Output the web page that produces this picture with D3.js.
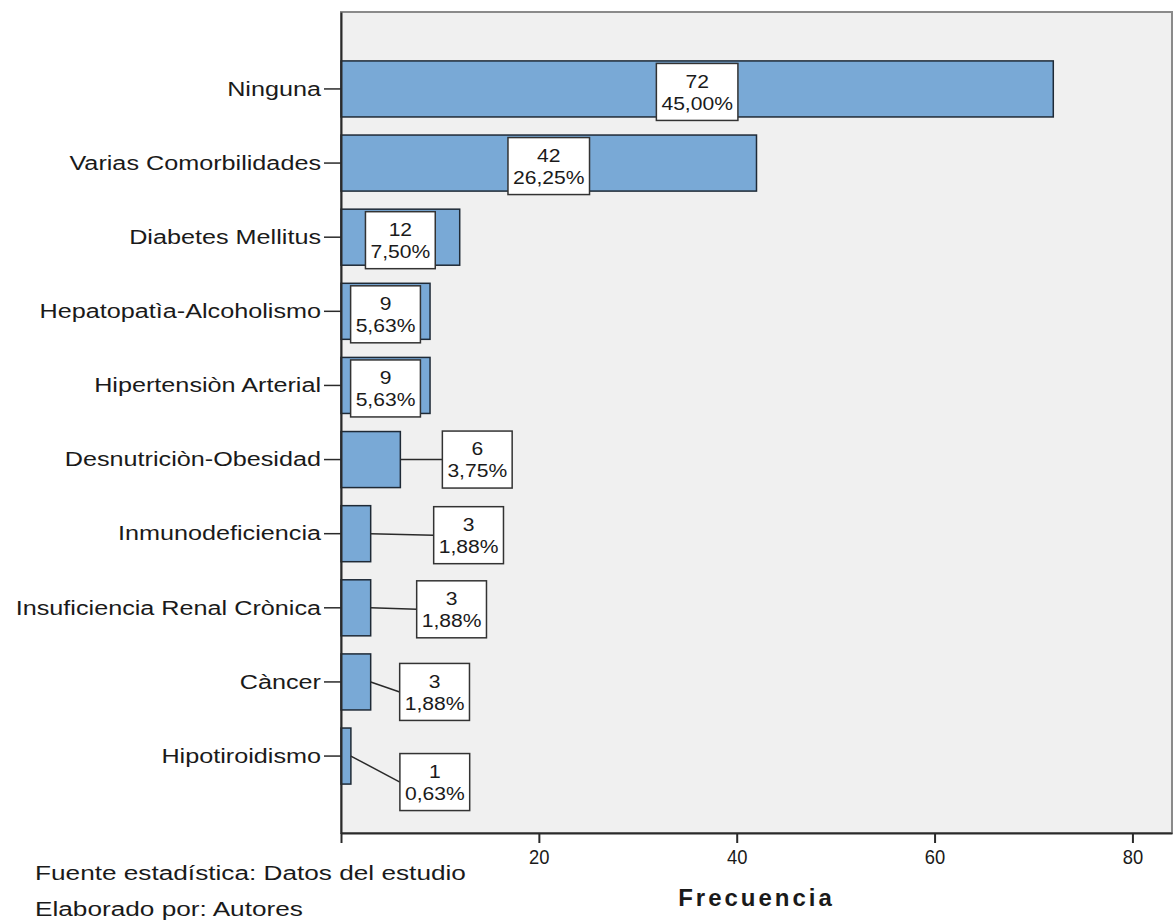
<!DOCTYPE html>
<html>
<head>
<meta charset="utf-8">
<script src="https://cdn.jsdelivr.net/npm/d3@7"></script>
<style>
  html, body { margin: 0; padding: 0; background: #ffffff; }
  svg { display: block; }
  text { font-family: "Liberation Sans", Arial, sans-serif; fill: #1a1a1a; }
</style>
</head>
<body>
<svg id="chart" width="1175" height="922"></svg>
<script>
// Comorbidities and their frequencies
const categories = [
  "Ninguna",
  "Varias Comorbilidades",
  "Diabetes Mellitus",
  "Hepatopatìa-Alcoholismo",
  "Hipertensiòn Arterial",
  "Desnutriciòn-Obesidad",
  "Inmunodeficiencia",
  "Insuficiencia Renal Crònica",
  "Càncer",
  "Hipotiroidismo"
];
const counts = [72, 42, 12, 9, 9, 6, 3, 3, 3, 1];
const percents = ["45,00%", "26,25%", "7,50%", "5,63%", "5,63%", "3,75%", "1,88%", "1,88%", "1,88%", "0,63%"];
const xTicks = [20, 40, 60, 80];

// Placement of the value boxes that sit outside short bars:
// horizontal gap after the bar end and vertical shift from the bar centre (px)
const outsideGap = [null, null, null, null, null, 42, 63, 46, 29, 49];
const outsideShift = [0, 0, 0, 0, 0, 0, 1.5, 1.5, 10, 26];

const svg = d3.select("#chart");
const plot = { left: 341, right: 1172, top: 12, bottom: 833 };

const x = d3.scaleLinear().domain([0, 84]).range([plot.left, plot.right]);
const y = d3.scaleBand().domain(categories)
  .range([plot.top, plot.bottom])
  .paddingInner(0.244)
  .paddingOuter(0.66);

// wide text: draw at x=0 and move with a transform that also stretches it
function stretch(sel, sx) {
  sel.each(function () {
    const t = d3.select(this);
    const tx = +t.attr("x") || 0;
    t.attr("x", 0).attr("transform", `translate(${tx},0) scale(${sx},1)`);
  });
}

// plot background and frame
svg.append("rect")
  .attr("x", plot.left).attr("y", plot.top)
  .attr("width", plot.right - plot.left).attr("height", plot.bottom - plot.top)
  .attr("fill", "#f0f0f0")
  .attr("stroke", "#8a8a8a").attr("stroke-width", 2);

// bars
svg.append("g").selectAll("rect")
  .data(categories)
  .join("rect")
  .attr("x", x(0))
  .attr("y", d => y(d))
  .attr("width", (d, i) => x(counts[i]) - x(0))
  .attr("height", y.bandwidth())
  .attr("fill", "#79a9d6")
  .attr("stroke", "#1f2a36")
  .attr("stroke-width", 1.5);

// y axis
const yAxis = svg.append("g")
  .attr("transform", `translate(${plot.left},0)`)
  .call(d3.axisLeft(y).tickSizeInner(17).tickSizeOuter(0).tickPadding(3));
yAxis.select(".domain").attr("stroke", "#2a2a2a").attr("stroke-width", 2);
yAxis.selectAll(".tick line").attr("stroke", "#2a2a2a").attr("stroke-width", 1.5);
yAxis.selectAll(".tick text")
  .attr("font-size", 21)
  .attr("font-family", "Liberation Sans, Arial, sans-serif")
  .attr("fill", "#1a1a1a")
  .call(stretch, 1.2);

// x axis
const xAxis = svg.append("g")
  .attr("transform", `translate(0,${plot.bottom})`)
  .call(d3.axisBottom(x).tickValues([0].concat(xTicks)).tickSizeInner(10).tickSizeOuter(0).tickPadding(7)
    .tickFormat(d => d === 0 ? "" : d));
xAxis.select(".domain").attr("stroke", "#2a2a2a").attr("stroke-width", 2);
xAxis.selectAll(".tick line").attr("stroke", "#2a2a2a").attr("stroke-width", 2);
xAxis.selectAll(".tick text")
  .attr("font-size", 20)
  .attr("font-family", "Liberation Sans, Arial, sans-serif")
  .attr("fill", "#1a1a1a")
  .call(stretch, 0.92);

// x axis title
svg.append("text")
  .attr("x", (plot.left + plot.right) / 2)
  .attr("y", 906)
  .attr("text-anchor", "middle")
  .attr("font-size", 24)
  .attr("font-weight", "bold")
  .attr("letter-spacing", 3)
  .text("Frecuencia");

// value labels
const labels = svg.append("g");
categories.forEach((c, i) => {
  const barEnd = x(counts[i]);
  const cyBar = y(c) + y.bandwidth() / 2;
  const g = labels.append("g");
  const textScale = 1.11;
  const t1 = g.append("text").attr("font-size", 19).attr("text-anchor", "middle")
    .attr("dominant-baseline", "central").text(counts[i]);
  const t2 = g.append("text").attr("font-size", 19).attr("text-anchor", "middle")
    .attr("dominant-baseline", "central").text(percents[i]);
  const w = Math.max(t1.node().getComputedTextLength(), t2.node().getComputedTextLength()) * textScale + 10;
  const h = 57;
  let cx, cy;
  if (outsideGap[i] === null) {
    cx = (x(0) + barEnd) / 2;
    cy = cyBar + 3;
  } else {
    cx = barEnd + outsideGap[i] + w / 2;
    cy = cyBar + outsideShift[i];
    labels.insert("line", ":first-child")
      .attr("x1", barEnd).attr("y1", cyBar)
      .attr("x2", cx - w / 2).attr("y2", cy)
      .attr("stroke", "#2a2a2a").attr("stroke-width", 1.5);
  }
  g.insert("rect", ":first-child")
    .attr("x", cx - w / 2).attr("y", cy - h / 2)
    .attr("width", w).attr("height", h)
    .attr("fill", "#ffffff")
    .attr("stroke", "#333333").attr("stroke-width", 1.5);
  t1.attr("transform", `translate(${cx},${cy - 11}) scale(${textScale},1)`);
  t2.attr("transform", `translate(${cx},${cy + 11}) scale(${textScale},1)`);
});

// source notes
svg.append("text").attr("x", 35).attr("y", 880).attr("font-size", 20)
  .text("Fuente estadística: Datos del estudio")
  .call(stretch, 1.31);
svg.append("text").attr("x", 35).attr("y", 916).attr("font-size", 20)
  .text("Elaborado por: Autores")
  .call(stretch, 1.31);
</script>
</body>
</html>
